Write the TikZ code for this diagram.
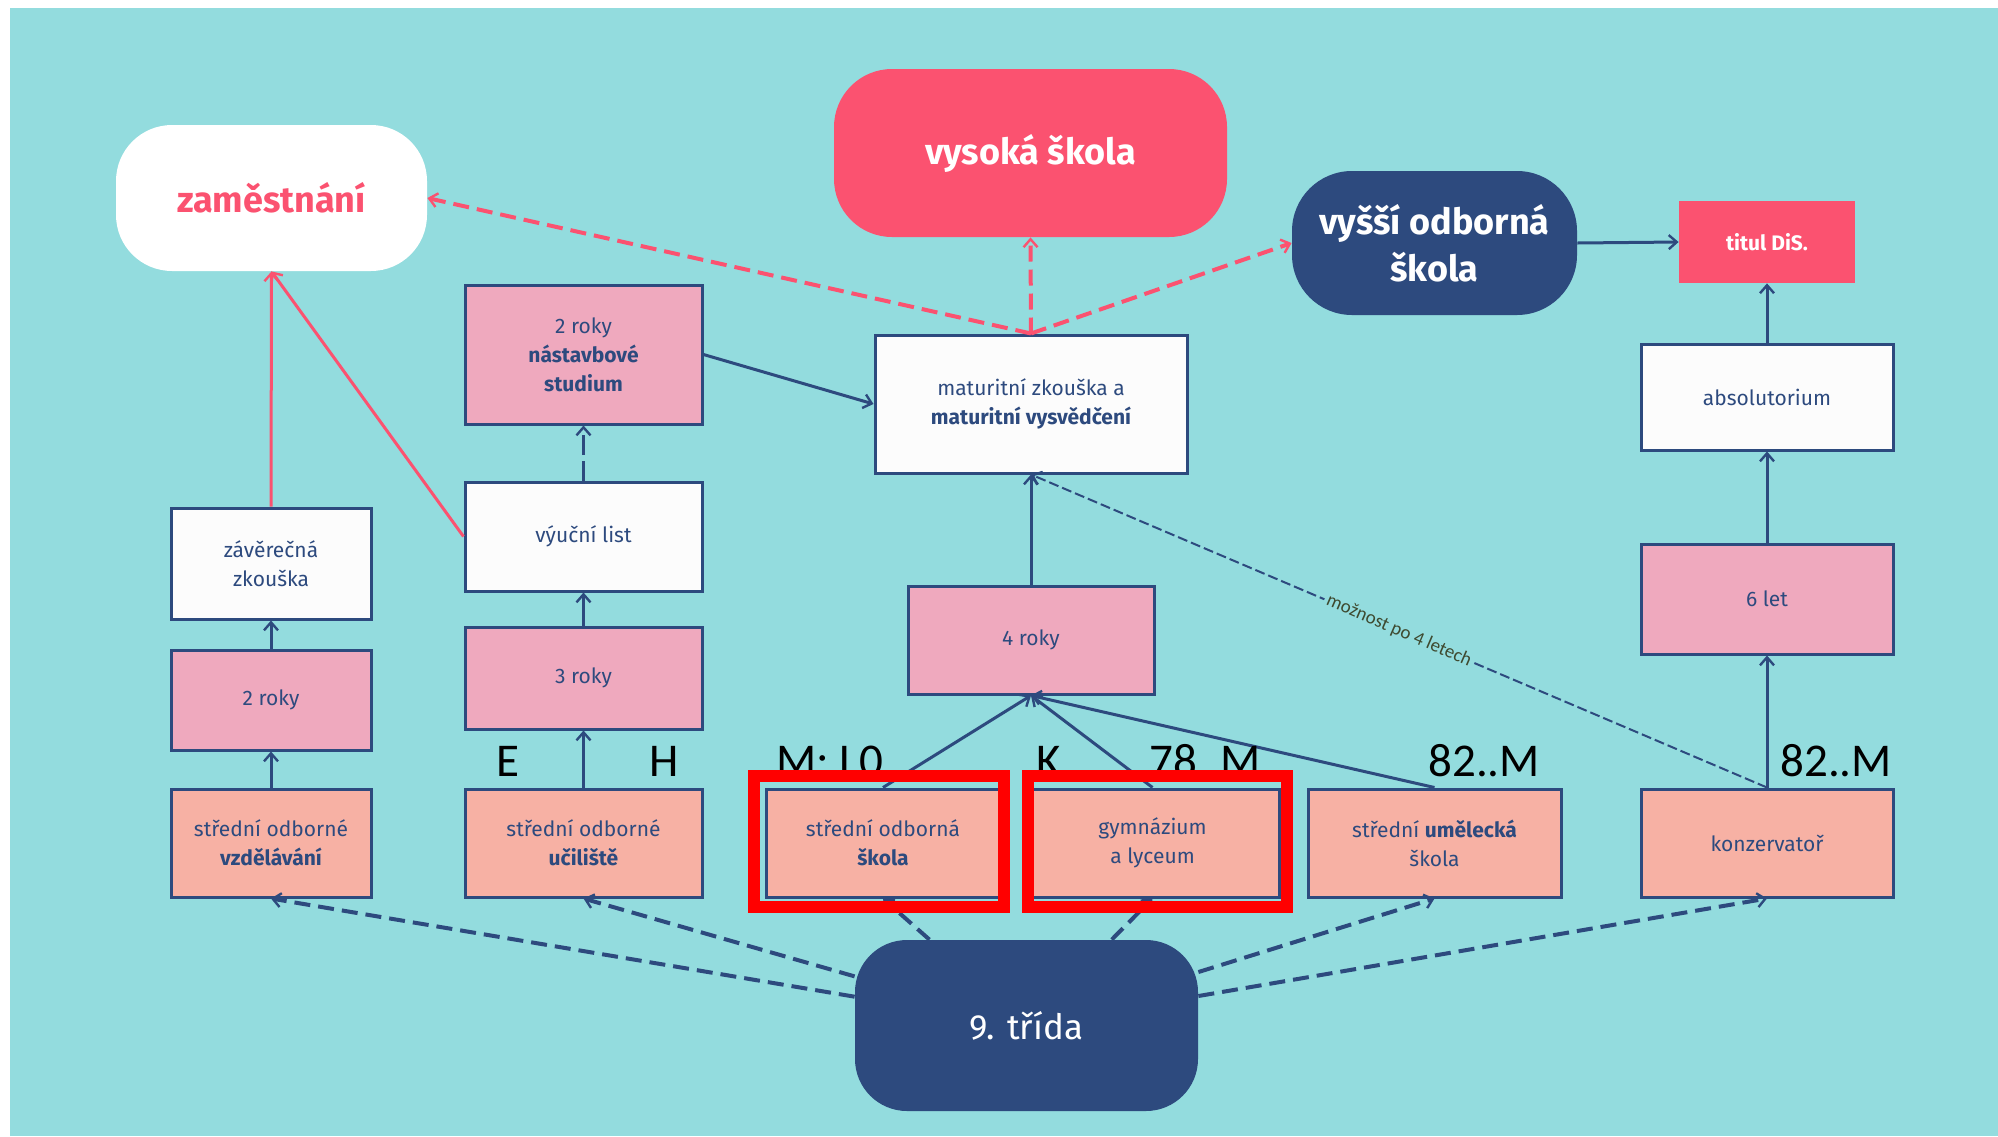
\documentclass[tikz,border=0pt]{standalone}
\usepackage{fontspec}
\setmainfont{Fira Sans}
\newfontfamily\calib{Carlito}
\usetikzlibrary{arrows.meta,calc}
\definecolor{bgteal}{HTML}{93DCDE}
\definecolor{navy}{HTML}{2D4A7E}
\definecolor{rosered}{HTML}{FB5270}
\definecolor{pinkbox}{HTML}{EFA9BE}
\definecolor{salmon}{HTML}{F7B1A4}
\definecolor{olivetext}{HTML}{3E4A30}
\definecolor{boxwhite}{HTML}{FCFCFC}
\tikzset{
  box/.style={rectangle, draw=navy, line width=1.5pt, text=navy, align=center, inner sep=0pt,
    font=\fontsize{10.5}{14.5}\selectfont},
  pinkb/.style={box, fill=pinkbox},
  whiteb/.style={box, fill=boxwhite},
  salb/.style={box, fill=salmon},
  sz/.style 2 args={minimum width=#1, minimum height=#2},
  arr/.style={-{Straight Barb[length=4pt,width=7pt,line width=1.2pt]}},
  navyline/.style={draw=navy, line width=1.5pt, arr},
  navydash/.style={draw=navy, line width=2pt, dash pattern=on 8pt off 4pt, arr},
  navylongdash/.style={draw=navy, line width=1.5pt, dash pattern=on 10pt off 3pt, arr},
  navythin/.style={draw=navy, line width=1pt, dash pattern=on 5pt off 2pt, arr},
  redline/.style={draw=rosered, line width=1.5pt, arr},
  reddash/.style={draw=rosered, line width=2pt, dash pattern=on 8pt off 4pt, arr},
  codelabel/.style={anchor=base west, inner sep=0pt, text=black, font=\calib\fontsize{23.5}{24}\selectfont},
  redframe/.style={draw=red, line width=6pt},
}
\begin{document}
\begin{tikzpicture}[x=0.5pt,y=-0.5pt]
\useasboundingbox (0,0) rectangle (1998,1136);
\fill[white] (0,0) rectangle (1998,1136);
\fill[bgteal] (10,8) rectangle (1998,1136);

% top level
\node[fill=white, rounded corners=28pt, sz={155.5pt}{73pt}, text=rosered, font=\bfseries\fontsize{18}{22}\selectfont] (zam) at (271.5,198) {zaměstnání};
\node[fill=rosered, rounded corners=29pt, sz={196.5pt}{84pt}, text=white, font=\bfseries\fontsize{18}{22}\selectfont] (vs) at (1030.5,153) {vysoká škola};
\node[fill=navy, rounded corners=30pt, sz={142.5pt}{72pt}, text=white, align=center, font=\bfseries\fontsize{18}{23.5}\selectfont] (vos) at (1434.5,243) {vyšší odborná\\škola};
\node[fill=rosered, sz={88pt}{41pt}, text=white, font=\bfseries\fontsize{10.5}{13}\selectfont] (dis) at (1767,242) {titul DiS.};

% middle boxes
\node[pinkb, sz={118.5pt}{69.5pt}] (nast) at (583.5,354.5) {2 roky\\\textbf{nástavbové}\\\textbf{studium}};
\node[whiteb, sz={156pt}{69pt}] (mat) at (1031,404) {maturitní zkouška a\\\textbf{maturitní vysvědčení}};
\node[whiteb, sz={126pt}{53pt}] (abs) at (1767,397) {absolutorium};
\node[whiteb, sz={100pt}{55.5pt}] (zav) at (271,563.5) {závěrečná\\zkouška};
\node[whiteb, sz={118.5pt}{54.5pt}] (vyu) at (583.5,536.5) {výuční list};
\node[pinkb, sz={123pt}{54pt}] (r4) at (1031,640) {4 roky};
\node[pinkb, sz={126pt}{55pt}] (r6) at (1767,599) {6 let};
\node[pinkb, sz={100pt}{50pt}] (r2) at (271,700) {2 roky};
\node[pinkb, sz={118.5pt}{51pt}] (r3) at (583.5,678) {3 roky};

% bottom schools
\node[salb, sz={100pt}{54pt}] (sov) at (271,843) {střední odborné\\\textbf{vzdělávání}};
\node[salb, sz={118.5pt}{54pt}] (sou) at (583.5,843) {střední odborné\\\textbf{učiliště}};
\node[salb, sz={117pt}{54pt}] (sos) at (883,843) {střední odborná\\\textbf{škola}};
\node[salb, sz={126.5pt}{54pt}] (gym) at (1152.5,843) {gymnázium\\a lyceum};
\node[salb, sz={126.5pt}{54pt}] (sus) at (1434.5,843) {střední \textbf{umělecká}\\škola};
\node[salb, sz={126pt}{54pt}] (kon) at (1767,843) {konzervatoř};

\node[fill=navy, rounded corners=26pt, sz={171.5pt}{85.5pt}, text=white, font=\fontsize{17.5}{20}\selectfont] (tri) at (1026.5,1025.5) {9. třída};

% connectors
\draw[redline] (zav.north) -- (zam.south);
\draw[redline] (vyu.west) -- (zam.south);
\draw[reddash] (mat.north) -- (zam.east);
\draw[reddash] (mat.north) -- (vs.south);
\draw[reddash] (mat.north) -- (vos.west);
\draw[navyline] (vos.east) -- (dis.west);
\draw[navyline] (abs.north) -- (dis.south);
\draw[navyline] (r6.north) -- (abs.south);
\draw[navyline] (kon.north) -- (r6.south);
\draw[navythin] (kon.north) -- (mat.south);
\node[fill=bgteal, inner sep=1.5pt, text=olivetext, font=\calib\fontsize{9.5}{10}\selectfont, rotate=-23.3] (lbl) at ($(kon.north)!0.5!(mat.south)$) {možnost po 4 letech};
\draw[navyline] (r4.north) -- (mat.south);
\draw[navyline] (sos.north) -- (r4.south);
\draw[navyline] (gym.north) -- (r4.south);
\draw[navyline] (sus.north) -- (r4.south);
\draw[navylongdash] (vyu.north) -- (nast.south);
\draw[navyline] (nast.east) -- (mat.west);
\draw[navyline] (r3.north) -- (vyu.south);
\draw[navyline] (sou.north) -- (r3.south);
\draw[navyline] (r2.north) -- (zav.south);
\draw[navyline] (sov.north) -- (r2.south);

\draw[navydash] (tri) -- (sov.south);
\draw[navydash] (tri) -- (sou.south);
\draw[navydash] (tri) -- (sos.south);
\draw[navydash] (tri) -- (gym.south);
\draw[navydash] (tri) -- (sus.south);
\draw[navydash] (tri) -- (kon.south);

% code labels
\node[codelabel] (lE) at (496,776) {E};
\node[codelabel] (lH) at (649,776) {H};
\node[codelabel] (lML) at (776,776) {M; L0};
\node[codelabel] (lK) at (1036,776) {K};
\node[codelabel] (l78) at (1149,776) {78..M};
\node[codelabel] (l82a) at (1428,776) {82..M};
\node[codelabel] (l82b) at (1780,776) {82..M};

% red highlight frames
\draw[redframe] (754,776) rectangle (1004,907);
\draw[redframe] (1028,776) rectangle (1287,907);
\end{tikzpicture}
\end{document}
